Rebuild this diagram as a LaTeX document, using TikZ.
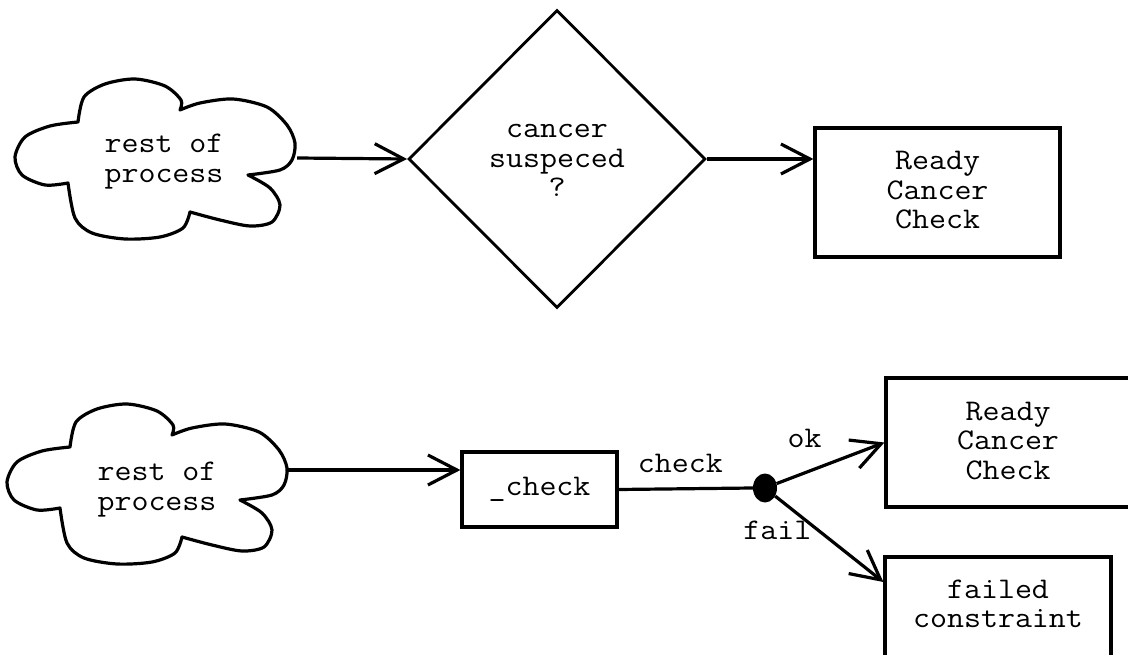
\documentclass[tikz,border=0pt]{standalone}
\usepackage{fontspec}
\setmonofont[FakeStretch=1.1]{Latin Modern Mono}
\usetikzlibrary{arrows.meta,shapes.geometric,calc}

% Hand-drawn cloud outline around a node; #1 = node name, #2 = offset of the outline centre
\newcommand\cloudoutline[2]{%
  \draw[ln, line join=round, shift={($(#1.center)+#2$)}]
    plot[smooth] coordinates {(-78,-36) (-72,-61) (-51,-74) (-21,-79) (9,-72) (25,-58) (24,-48)}
    -- plot[smooth] coordinates {(24,-48) (44,-55) (77,-59) (111,-51) (131,-33) (139,-15) (136,2) (124,12) (92,17)}
    -- plot[smooth] coordinates {(92,17) (114,30) (124,47) (116,64) (94,68) (64,62) (34,54)}
    -- plot[smooth] coordinates {(34,54) (27,70) (4,79) (-31,81) (-64,75) (-81,60) (-88,25)}
    -- plot[smooth] coordinates {(-88,25) (-111,27) (-134,17) (-141,-1) (-131,-21) (-106,-32) (-78,-36)}
    -- cycle;}
% invisible struts that shift a text block inside its frame
\newcommand\lowerpad[1]{\rule[-#1]{0pt}{0pt}}
\newcommand\upperpad[1]{\rule{0pt}{#1}}

\begin{document}
\begin{tikzpicture}[x=1pt,y=-1pt,
  every node/.style={font=\ttfamily\fontsize{30}{29.5}\selectfont, inner sep=0pt},
  ln/.style={line width=3.2pt},
  flow/.style={ln, -{Straight Barb[length=29pt,width=30pt]}},
  box/.style={draw, line width=3.2pt, align=center},
  cloudbody/.style={align=center, minimum height=160pt},
  lbl/.style={anchor=base}]

\fill[white] (0,0) rectangle (1128,655);
\useasboundingbox (0,0) rectangle (1128,655);

% ---- upper flow: decision ----
\node[cloudbody, minimum width=266pt] (cloudA) at (164,158) {\upperpad{26pt}rest of\\process};
\cloudoutline{cloudA}{(-8,0)}

\node[draw, diamond, line width=2.8pt, minimum width=297pt, minimum height=298pt,
      align=center] (q) at (557,159) {\upperpad{17pt}cancer\\suspeced\\?};

\node[box, minimum width=245pt, minimum height=129pt] (readyA) at (937.5,192.5)
  {Ready\\Cancer\\Check\lowerpad{5pt}};

\draw[flow] (cloudA.east) -- (q.west);
\draw[flow] (q.east) -- (q.east -| readyA.west);

% ---- lower flow: check with outcomes ----
\node[cloudbody, minimum width=262pt] (cloudB) at (157,487) {\upperpad{24pt}rest of\\process};
\cloudoutline{cloudB}{(-9,-4)}

\node[box, minimum width=155pt, minimum height=75pt] (chk) at (539.5,489.5) {\_check};

\node[ellipse, fill, minimum width=24pt, minimum height=29pt] (dot) at (765,488) {};

\node[box, minimum width=244pt, minimum height=129pt] (readyB) at (1008,442.5)
  {Ready\\Cancer\\Check\lowerpad{4pt}};

\node[box, minimum width=226pt, minimum height=103pt] (failbox) at (998,608.5)
  {failed\\constraint\lowerpad{10pt}};

\draw[flow] ([yshift=17pt]cloudB.east) -- ([yshift=19.5pt]chk.west);
\draw[ln] (chk.east) -- node[lbl, pos=0.46, yshift=16pt] {check} (dot.west);
\draw[flow] (dot) -- node[lbl, pos=0.26, yshift=25pt] {ok} (readyB.west);
\draw[flow] (dot) -- node[lbl, pos=0.02, yshift=-42pt] {fail} ([yshift=26.5pt]failbox.west);

\end{tikzpicture}
\end{document}
